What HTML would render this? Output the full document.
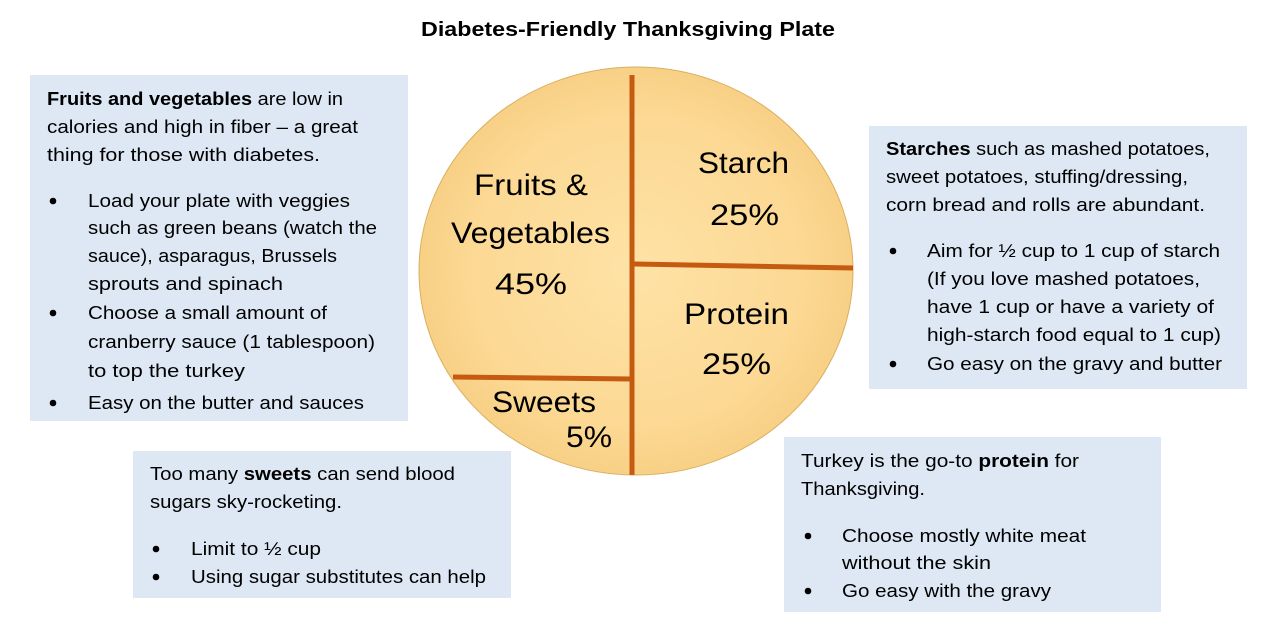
<!DOCTYPE html>
<html><head><meta charset="utf-8"><style>html,body{margin:0;padding:0;background:#fff;}svg{display:block}</style></head>
<body>
<svg width="1277" height="628" viewBox="0 0 1277 628" xmlns="http://www.w3.org/2000/svg" font-family="Liberation Sans, sans-serif" fill="#000">
<defs>
<radialGradient id="g" cx="50%" cy="50%" r="50%">
<stop offset="0%" stop-color="#fee2a6"/><stop offset="75%" stop-color="#fcd994"/><stop offset="100%" stop-color="#f8d086"/>
</radialGradient>
</defs>
<rect width="1277" height="628" fill="#fff"/>
<text x="421" y="36" font-size="20" font-weight="bold" textLength="414" lengthAdjust="spacingAndGlyphs">Diabetes-Friendly Thanksgiving Plate</text>

<rect x="30" y="75" width="378" height="346" fill="#dde8f4"/>
<rect x="869" y="126" width="378" height="263" fill="#dde8f4"/>
<rect x="133" y="451" width="378" height="147" fill="#dde8f4"/>
<rect x="784" y="437" width="377" height="175" fill="#dde8f4"/>

<ellipse cx="636" cy="271" rx="217" ry="204" fill="url(#g)" stroke="#d9b060" stroke-width="1"/>
<line x1="632" y1="75" x2="632" y2="475" stroke="#c55a11" stroke-width="5"/>
<line x1="634" y1="264" x2="853" y2="268" stroke="#c55a11" stroke-width="5"/>
<line x1="453" y1="377" x2="632" y2="379" stroke="#c55a11" stroke-width="5"/>

<g font-size="30">
<text x="474" y="195" textLength="114" lengthAdjust="spacingAndGlyphs">Fruits &amp;</text>
<text x="451" y="243" textLength="159" lengthAdjust="spacingAndGlyphs">Vegetables</text>
<text x="495" y="294" textLength="72" lengthAdjust="spacingAndGlyphs">45%</text>
<text x="698" y="173" textLength="91" lengthAdjust="spacingAndGlyphs">Starch</text>
<text x="710" y="225" textLength="69" lengthAdjust="spacingAndGlyphs">25%</text>
<text x="684" y="324" textLength="105" lengthAdjust="spacingAndGlyphs">Protein</text>
<text x="702" y="374" textLength="69" lengthAdjust="spacingAndGlyphs">25%</text>
<text x="492" y="412" textLength="104" lengthAdjust="spacingAndGlyphs">Sweets</text>
<text x="566" y="447" textLength="46" lengthAdjust="spacingAndGlyphs">5%</text>
</g>

<g fill="#000">
<circle cx="53" cy="201" r="3.3"/><circle cx="53" cy="313" r="3.3"/><circle cx="53" cy="403" r="3.3"/>
<circle cx="893" cy="251" r="3.3"/><circle cx="893" cy="364" r="3.3"/>
<circle cx="156" cy="549" r="3.3"/><circle cx="156" cy="577" r="3.3"/>
<circle cx="808" cy="536" r="3.3"/><circle cx="808" cy="591" r="3.3"/>
</g>

<g font-size="18">
<text x="47" y="105" textLength="296" lengthAdjust="spacingAndGlyphs"><tspan font-weight="bold">Fruits and vegetables</tspan> are low in</text>
<text x="47" y="133" textLength="311" lengthAdjust="spacingAndGlyphs">calories and high in fiber – a great</text>
<text x="47" y="161" textLength="273" lengthAdjust="spacingAndGlyphs">thing for those with diabetes.</text>
<text x="88" y="207" textLength="262" lengthAdjust="spacingAndGlyphs">Load your plate with veggies</text>
<text x="88" y="234" textLength="289" lengthAdjust="spacingAndGlyphs">such as green beans (watch the</text>
<text x="88" y="262" textLength="249" lengthAdjust="spacingAndGlyphs">sauce), asparagus, Brussels</text>
<text x="88" y="290" textLength="195" lengthAdjust="spacingAndGlyphs">sprouts and spinach</text>
<text x="88" y="319" textLength="239" lengthAdjust="spacingAndGlyphs">Choose a small amount of</text>
<text x="88" y="348" textLength="287" lengthAdjust="spacingAndGlyphs">cranberry sauce (1 tablespoon)</text>
<text x="88" y="377" textLength="157" lengthAdjust="spacingAndGlyphs">to top the turkey</text>
<text x="88" y="409" textLength="276" lengthAdjust="spacingAndGlyphs">Easy on the butter and sauces</text>

<text x="886" y="155" textLength="324" lengthAdjust="spacingAndGlyphs"><tspan font-weight="bold">Starches</tspan> such as mashed potatoes,</text>
<text x="886" y="183" textLength="302" lengthAdjust="spacingAndGlyphs">sweet potatoes, stuffing/dressing,</text>
<text x="886" y="211" textLength="319" lengthAdjust="spacingAndGlyphs">corn bread and rolls are abundant.</text>
<text x="927" y="257" textLength="293" lengthAdjust="spacingAndGlyphs">Aim for ½ cup to 1 cup of starch</text>
<text x="927" y="285" textLength="273" lengthAdjust="spacingAndGlyphs">(If you love mashed potatoes,</text>
<text x="927" y="313" textLength="287" lengthAdjust="spacingAndGlyphs">have 1 cup or have a variety  of</text>
<text x="927" y="341" textLength="294" lengthAdjust="spacingAndGlyphs">high-starch food equal to 1 cup)</text>
<text x="927" y="370" textLength="295" lengthAdjust="spacingAndGlyphs">Go easy on the gravy and butter</text>

<text x="150" y="480" textLength="305" lengthAdjust="spacingAndGlyphs">Too many <tspan font-weight="bold">sweets</tspan> can send blood</text>
<text x="150" y="508" textLength="192" lengthAdjust="spacingAndGlyphs">sugars sky-rocketing.</text>
<text x="191" y="555" textLength="130" lengthAdjust="spacingAndGlyphs">Limit to ½ cup</text>
<text x="191" y="583" textLength="295" lengthAdjust="spacingAndGlyphs">Using sugar substitutes can help</text>

<text x="801" y="467" textLength="278" lengthAdjust="spacingAndGlyphs">Turkey is the go-to <tspan font-weight="bold">protein</tspan> for</text>
<text x="801" y="495" textLength="124" lengthAdjust="spacingAndGlyphs">Thanksgiving.</text>
<text x="842" y="542" textLength="244" lengthAdjust="spacingAndGlyphs">Choose mostly white meat</text>
<text x="842" y="569" textLength="149" lengthAdjust="spacingAndGlyphs">without the skin</text>
<text x="842" y="597" textLength="209" lengthAdjust="spacingAndGlyphs">Go easy with the gravy</text>
</g>
</svg>
</body></html>
